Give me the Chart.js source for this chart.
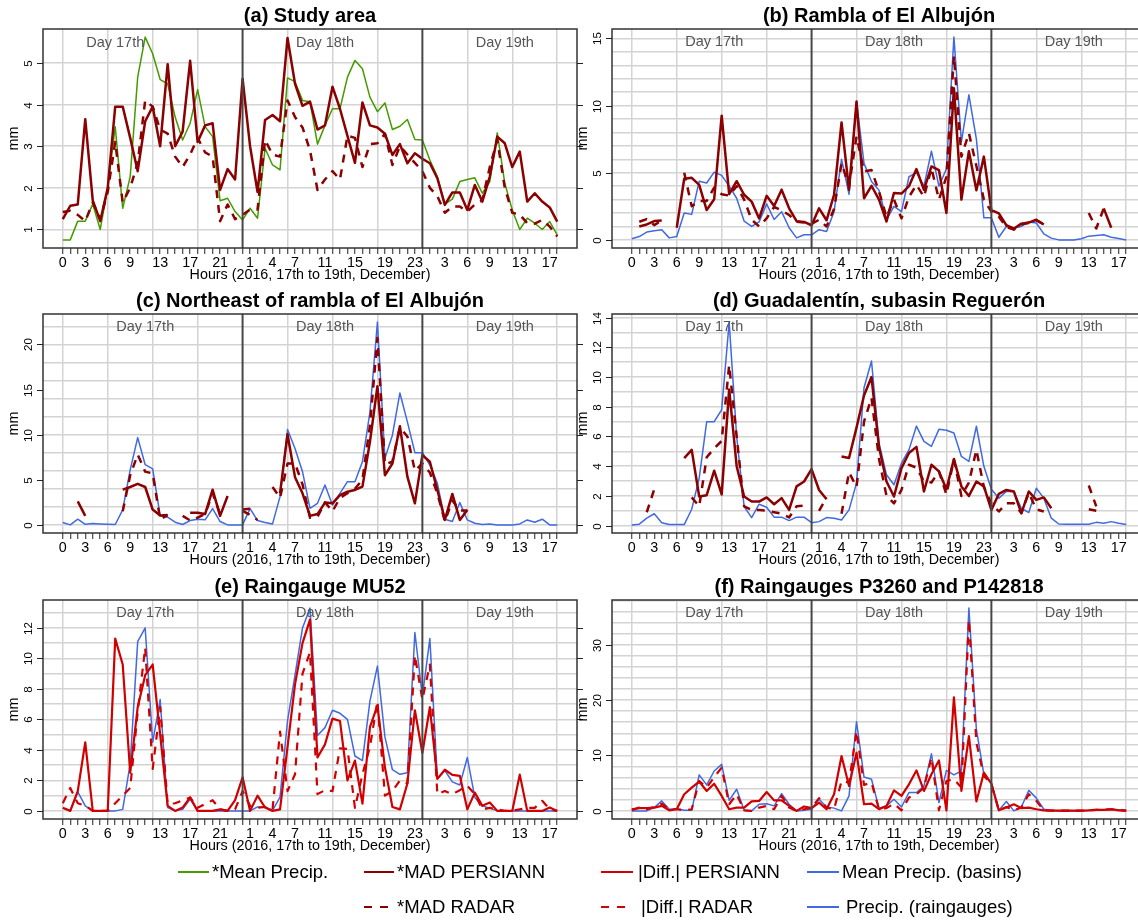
<!DOCTYPE html>
<html>
<head>
<meta charset="utf-8">
<title>Precipitation errors, 17-19 December 2016</title>
<script src="https://cdn.jsdelivr.net/npm/chart.js@4.4.1/dist/chart.umd.min.js"></script>
<style>
  html, body { margin: 0; padding: 0; background: #fff; width: 1138px; height: 920px; overflow: hidden; }
  .panel { position: absolute; }
  .lg { position: absolute; font: 18.5px "Liberation Sans", Arial, sans-serif; color: #000; line-height: 22px; white-space: nowrap; }
  .key { position: absolute; height: 2px; }
</style>
</head>
<body>

<div class="panel" id="pa"><canvas id="ca" width="585" height="294"></canvas></div>
<div class="panel" id="pb"><canvas id="cb" width="585" height="294"></canvas></div>
<div class="panel" id="pc"><canvas id="cc" width="585" height="294"></canvas></div>
<div class="panel" id="pd"><canvas id="cd" width="585" height="294"></canvas></div>
<div class="panel" id="pe"><canvas id="ce" width="585" height="294"></canvas></div>
<div class="panel" id="pf"><canvas id="cf" width="585" height="294"></canvas></div>

<!-- legend -->
<div class="key" style="left:178px;top:871px;width:31px;background:#459B00"></div>
<div class="lg" style="left:212px;top:861px">*Mean Precip.</div>
<div class="key" style="left:364px;top:871px;width:30px;background:#8B0000"></div>
<div class="lg" style="left:397px;top:861px">*MAD PERSIANN</div>
<div class="key" style="left:364px;top:906px;width:28px;background:linear-gradient(to right,#8B0000 0 8px,transparent 8px 16px,#8B0000 16px 24px,transparent 24px)"></div>
<div class="lg" style="left:397px;top:896px">*MAD RADAR</div>
<div class="key" style="left:601px;top:871px;width:32px;background:#D00000"></div>
<div class="lg" style="left:638px;top:861px">|Diff.| PERSIANN</div>
<div class="key" style="left:601px;top:906px;width:30px;background:linear-gradient(to right,#D00000 0 8px,transparent 8px 16px,#D00000 16px 24px,transparent 24px)"></div>
<div class="lg" style="left:641px;top:896px">|Diff.| RADAR</div>
<div class="key" style="left:807px;top:871px;width:32px;background:#4169E1"></div>
<div class="lg" style="left:842px;top:861px">Mean Precip. (basins)</div>
<div class="key" style="left:807px;top:906px;width:32px;background:#4169E1"></div>
<div class="lg" style="left:846px;top:896px">Precip. (raingauges)</div>

<script>
// hours 0..66 = 17th 00h .. 19th 18h
const HOURS = Array.from({length: 67}, (_, i) => i);
const HOUR_LABEL_IDX = [0, 3, 6, 9, 13, 17, 21, 25, 28, 31, 35, 39, 43, 47, 51, 54, 57, 61, 65];
const DAY_BREAKS = [24, 48];
const DAY_NAMES = ['Day 17th', 'Day 18th', 'Day 19th'];

// (a) Study area
const aMeanPrecip = [
  0.75,0.75,1.2,1.2,1.61,1.0,2.0,3.47,1.51,2.27,
  4.66,5.62,5.22,4.6,4.5,3.7,3.15,3.55,4.36,3.47,
  3.23,1.69,1.75,1.43,1.23,1.51,1.27,2.95,2.55,2.43,
  4.64,4.55,4.1,4.07,3.05,3.5,3.9,3.9,4.66,5.06,
  4.86,4.18,3.83,4.04,3.4,3.48,3.64,3.16,3.15,2.67,
  2.27,1.61,1.73,2.15,2.2,2.24,1.87,2.15,3.32,2.11,
  1.47,1.0,1.27,1.15,1.0,1.19,0.87];
const aMadPersiann = [
  1.25,1.57,1.6,3.65,1.7,1.2,2.0,3.95,3.95,3.2,
  2.4,3.6,3.95,3.0,4.97,3.0,3.35,5.05,3.1,3.5,
  3.55,1.95,2.45,2.2,4.62,3.0,1.9,3.63,3.75,3.6,
  5.6,4.5,3.97,4.07,3.4,3.5,4.43,3.9,3.25,2.6,
  4.05,3.5,3.45,3.3,2.79,3.05,2.59,2.83,2.7,2.59,
  2.23,1.59,1.89,1.89,1.47,2.07,1.67,2.27,3.23,3.07,
  2.5,2.87,1.67,1.87,1.67,1.53,1.19];
const aMadRadar = [
  1.42,1.45,1.35,1.2,1.65,1.25,1.9,3.1,1.65,2.0,
  2.6,4.1,3.95,3.4,3.3,2.75,2.5,2.8,3.2,2.85,
  2.75,1.2,1.6,1.25,1.35,1.48,1.48,3.15,2.8,2.75,
  4.1,3.7,3.45,2.9,1.95,2.2,2.4,2.2,3.25,3.2,
  2.5,3.05,3.07,3.3,2.55,3.0,2.8,2.6,2.4,2.0,
  1.8,1.4,1.55,1.55,1.43,1.6,1.7,2.5,3.15,2.0,
  1.4,1.36,1.15,1.14,1.23,1.07,0.83];

// (b) Rambla of El Albujon
const bMeanPrecip = [
  0.08,0.25,0.58,0.68,0.76,0.15,0.25,2.0,1.9,4.37,
  4.24,5.05,4.8,4.0,3.1,1.39,1.0,1.34,2.68,1.52,
  2.1,0.9,0.15,0.38,0.38,0.76,0.63,2.1,6.0,3.4,
  10.3,5.7,4.35,3.7,1.5,2.5,2.1,4.7,5.0,4.0,
  6.6,4.0,5.3,15.1,7.3,10.8,7.5,1.64,1.64,0.2,
  1.0,0.9,1.0,1.34,1.26,0.45,0.13,0,0,0,
  0.08,0.28,0.33,0.38,0.2,0.1,0];
const bMadPersiann = [
  null,1.0,1.15,1.4,1.45,null,0.9,4.55,4.62,4.1,
  2.22,3.03,9.25,3.4,4.37,3.36,2.85,1.6,3.28,2.53,
  3.74,2.35,1.39,1.34,1.09,2.35,1.46,3.36,8.75,3.73,
  10.3,3.1,4.03,3.0,1.37,3.5,3.45,4.0,5.27,3.73,
  5.47,5.2,2.0,11.3,3.0,6.6,3.7,6.2,2.22,1.97,
  1.09,0.83,1.21,1.29,1.5,1.15,null,null,null,null,
  null,null,null,2.35,0.9,null,null];
const bMadRadar = [
  null,1.35,1.55,1.1,1.45,null,null,5.0,2.5,2.9,
  2.9,3.9,3.4,3.3,4.0,3.0,1.5,1.0,1.6,2.45,
  2.2,1.85,1.35,1.3,1.2,1.5,1.0,2.3,5.7,4.0,
  7.7,5.1,5.2,3.6,1.7,3.0,1.6,3.2,4.1,3.2,
  5.35,3.0,4.7,13.7,6.2,7.95,5.5,3.0,2.1,1.72,
  0.96,0.76,1.16,1.26,1.46,1.16,null,null,null,null,
  null,2.0,0.85,2.35,null,null,null];

// (c) Northeast of rambla of El Albujon
const cMeanPrecip = [
  0.26,0,0.63,0.07,0.15,0.11,0.07,0.04,1.67,6.1,
  9.67,6.67,6.2,1.0,0.85,0.3,0.04,0.48,0.63,0.56,
  1.81,0.37,0,0,0,1.8,0.48,0.26,0.11,3.13,
  10.57,8.47,5.9,1.84,2.39,4.42,2.2,3.5,4.79,4.79,
  7.0,12.5,22.47,7.37,9.94,14.62,11.42,8.0,8.0,6.63,
  4.6,0.63,0.37,2.47,0.55,0.18,0.04,0.11,0,0,
  0,0.11,0.55,0.3,0.63,0,0];
const cMadPersiann = [
  null,null,2.6,1.0,null,null,null,null,3.9,4.2,
  4.55,4.2,1.7,1.05,1.1,null,null,1.35,1.35,1.2,
  3.9,1.0,3.2,null,1.7,1.8,null,null,null,3.5,
  10.05,5.27,3.5,1.0,1.2,2.47,2.39,3.3,3.68,3.87,
  4.24,9.2,15.36,5.5,6.8,10.94,5.34,2.39,7.73,7.0,
  3.87,0.55,3.43,0.55,1.66,null,null,null,null,null,
  null,null,null,null,null,null,null];
const cMadRadar = [
  null,null,null,null,null,null,null,null,1.5,5.5,
  7.8,5.9,5.7,0.6,1.1,null,1.0,0.5,0.8,1.2,
  3.5,1.2,null,null,1.55,1.1,0.55,null,4.2,3.0,
  6.8,6.8,4.5,0.8,0.9,2.5,1.5,3.0,3.5,4.0,
  5.0,11.0,20.7,6.7,7.0,10.8,9.8,6.0,6.8,5.8,
  3.5,0.4,2.7,1.6,1.6,null,null,null,null,null,
  null,null,null,null,null,null,null];

// (d) Guadalentin, subasin Reguerón
const dMeanPrecip = [
  0.05,0.1,0.5,0.8,0.2,0.07,0.07,0.07,1.1,3.2,
  7.0,7.0,7.8,13.7,6.0,1.28,0.54,1.44,1.24,0.57,
  0.57,0.34,0.57,0.57,0.2,0.27,0.54,0.5,0.38,1.06,
  2.86,9.28,11.08,5.56,3.42,2.75,4.2,5.1,6.7,5.67,
  5.34,6.48,6.42,6.24,4.66,4.32,6.69,3.99,2.45,1.85,
  2.3,2.3,1.17,0.88,2.52,1.85,0.5,0.11,0.09,0.09,
  0.09,0.09,0.22,0.16,0.27,0.16,0.07];
const dMadPersiann = [
  null,null,null,null,null,null,null,4.55,5.1,1.96,
  2.05,3.7,2.1,9.17,4.0,1.96,1.62,1.62,1.9,1.44,
  1.85,1.06,2.64,2.97,3.8,2.4,1.78,null,4.66,4.55,
  6.6,8.76,10.0,5.3,2.97,1.96,3.87,4.89,5.3,2.3,
  4.1,3.65,2.45,4.48,2.64,2.0,2.97,2.64,1.06,2.14,
  2.4,2.3,0.83,2.3,1.73,1.9,1.17,null,null,null,
  null,1.1,1.0,null,null,null,null];
const dMadRadar = [
  null,null,0.9,2.45,null,null,null,null,1.9,1.3,
  4.6,5.2,5.7,10.8,6.0,1.3,1.05,1.05,1.0,0.9,
  0.8,0.55,1.3,1.35,null,1.0,1.9,null,0.8,3.6,
  2.6,7.0,8.6,4.5,2.0,1.5,2.4,4.1,3.9,3.0,
  2.9,3.65,2.1,4.45,2.0,2.9,5.1,2.6,1.5,0.95,
  1.5,1.5,0.85,2.2,1.1,0.95,null,null,null,null,
  null,2.7,1.3,null,null,null,null];

// (e) Raingauge MU52
const eRaingauge = [
  0.18,0,1.25,0.33,0,0,0,0,0.1,3.1,
  11.1,12.0,4.5,7.3,0.22,0,0.1,0.77,0,0,
  0,0,0,0,0,0,0.26,0.26,0.04,0.9,
  5.9,8.9,12.0,13.3,4.95,5.46,6.6,6.4,6.0,3.6,
  3.3,7.2,9.5,4.85,2.7,2.4,2.5,11.7,7.5,11.3,
  2.1,2.65,1.9,1.7,3.5,0.88,0.33,0.18,0,0,
  0,0,0,0,0,0,0];
const eDiffPersiann = [
  0.2,0,1.3,4.5,0,0,0,11.3,9.6,2.5,
  6.8,8.9,9.6,5.0,0.33,0,0.22,0.88,0,0,
  0,0.1,0,0.7,2.2,0,1.0,0.22,0,0.1,
  4.2,8.3,11.0,12.55,3.5,4.36,6.05,5.9,2.0,3.3,
  0.48,5.5,6.9,2.86,0.26,0.1,1.8,6.6,3.8,6.8,
  2.1,2.7,2.36,2.3,0.1,1.2,0.33,0.55,0,0,
  0,2.38,0,0,0,0.22,0];
const eDiffRadar = [
  0.5,1.5,0.5,0.35,0,0,0,0.5,1.0,1.5,
  6.5,10.7,2.75,6.8,0.45,0.5,0.7,0.88,0.2,0.45,
  0.7,0.1,0,0.1,1.3,0.33,0.2,0.26,0.1,5.2,
  1.3,2.4,9.0,10.4,1.1,1.36,1.3,4.1,4.07,0.2,
  2.4,4.2,7.2,1.0,1.3,2.0,1.8,10.2,7.3,9.6,
  1.1,1.3,1.1,1.36,1.65,1.1,0.1,0.2,0.1,0,
  0,0.1,0.2,0.2,0.66,0.1,0];

// (f) Raingauges P3260 and P142818
const fRaingauge = [
  0,0,0,0.6,1.8,0.3,0.4,0.1,0.1,6.5,
  4.7,7.2,8.4,1.9,3.9,0.1,0,1.2,1.3,0.9,
  3.1,1.2,0,0.1,0.3,2.1,0.7,0.5,0,2.7,
  16.1,6.1,5.7,0.5,0.9,2.1,0.7,3.3,3.3,4.5,
  10.3,1.5,7.3,6.5,7.2,36.6,14.7,6.6,5.1,0.1,
  1.7,0,0.7,3.7,2.3,0.3,0.1,0,0,0,
  0,0.1,0.2,0.2,0.3,0.2,0.1];
const fDiffPersiann = [
  0.3,0.5,0.5,0.6,0.9,0.1,0.3,3.0,4.2,5.3,
  3.6,4.9,2.7,0.3,0.6,0.6,1.7,1.8,3.4,1.9,
  1.9,0.9,0,0.8,0.5,1.5,0.3,3.0,9.9,4.5,
  10.5,1.2,1.3,0.3,0.9,3.7,2.7,4.8,7.3,3.6,
  6.6,9.1,0.1,20.5,3.6,13.5,1.7,6.9,4.9,0.1,
  0.6,1.2,0.5,0.6,0.3,0.1,0.05,0.05,0.05,0.05,
  0.05,0.1,0.2,0.2,0.3,0.1,0];
const fDiffRadar = [
  0.1,0.6,0.3,0.7,1.3,0.3,0.3,0.1,0.3,5.4,
  4.2,6.1,7.8,1.2,3.0,0.1,0,0.6,0.9,0.3,
  2.7,0.6,0,0.3,0.6,2.3,0.6,0.3,5.4,5.1,
  14.4,4.7,5.1,0.3,0.5,1.3,0.1,2.4,3.0,4.2,
  9.6,0.1,5.4,5.7,4.2,34.5,12.3,6.3,4.8,0.1,
  0.7,0.1,0.6,3.0,1.8,0.1,0.05,0.05,0.05,0.05,
  0.05,0.1,0.2,0.2,0.3,0.15,0.05];

const FONT = '"Liberation Sans", Arial, Helvetica, sans-serif';

const STYLE = {
  madRadar:     {borderColor: '#8B0000', borderWidth: 2.5, borderDash: [8, 7]},
  madPersiann:  {borderColor: '#8B0000', borderWidth: 2.5},
  meanPrecip:   {borderColor: '#459B00', borderWidth: 1.5},
  basins:       {borderColor: '#4169E1', borderWidth: 1.5},
  diffRadar:    {borderColor: '#D00000', borderWidth: 2.2, borderDash: [8, 7]},
  diffPersiann: {borderColor: '#D00000', borderWidth: 2.2},
  gauges:       {borderColor: '#4169E1', borderWidth: 1.5}
};

// first series is drawn on top
const PANELS = [
  {canvas: 'ca', box: 'pa', left: 43,    top: 29,  title: '(a) Study area',
   series: [[aMadRadar, 'madRadar'], [aMadPersiann, 'madPersiann'], [aMeanPrecip, 'meanPrecip']],
   gridStep: 1, labelStep: 1, dayAt: [7, 35, 59]},
  {canvas: 'cb', box: 'pb', left: 611.5, top: 29,  title: '(b) Rambla of El Albuj\u00f3n',
   series: [[bMadRadar, 'madRadar'], [bMadPersiann, 'madPersiann'], [bMeanPrecip, 'basins']],
   gridStep: 1, labelStep: 5, dayAt: [11, 35, 59]},
  {canvas: 'cc', box: 'pc', left: 43,    top: 314, title: '(c) Northeast of rambla of El Albuj\u00f3n',
   series: [[cMadRadar, 'madRadar'], [cMadPersiann, 'madPersiann'], [cMeanPrecip, 'basins']],
   gridStep: 2, labelStep: 5, dayAt: [11, 35, 59]},
  {canvas: 'cd', box: 'pd', left: 611.5, top: 314, title: '(d) Guadalent\u00edn, subasin Reguer\u00f3n',
   series: [[dMadRadar, 'madRadar'], [dMadPersiann, 'madPersiann'], [dMeanPrecip, 'basins']],
   gridStep: 1, labelStep: 2, dayAt: [11, 35, 59]},
  {canvas: 'ce', box: 'pe', left: 43,    top: 600, title: '(e) Raingauge MU52',
   series: [[eDiffRadar, 'diffRadar'], [eDiffPersiann, 'diffPersiann'], [eRaingauge, 'gauges']],
   gridStep: 1, labelStep: 2, dayAt: [11, 35, 59]},
  {canvas: 'cf', box: 'pf', left: 611.5, top: 600, title: '(f) Raingauges P3260 and P142818',
   series: [[fDiffRadar, 'diffRadar'], [fDiffPersiann, 'diffPersiann'], [fRaingauge, 'gauges']],
   gridStep: 2, labelStep: 10, dayAt: [11, 35, 59]}
];

const PAD_L = 45, PAD_T = 29, PAD_R = 6, PAD_B = 46;

// axes, frame and texts in the style of base R graphics
const framePlugin = {
  id: 'frame',
  afterDatasetsDraw(chart, _args, o) {
    const {ctx, chartArea: a, scales: {x, y}} = chart;
    const seg = (x1, y1, x2, y2) => { ctx.beginPath(); ctx.moveTo(x1, y1); ctx.lineTo(x2, y2); ctx.stroke(); };
    ctx.save();

    ctx.strokeStyle = '#474747';
    ctx.lineWidth = 2;
    DAY_BREAKS.forEach(v => {
      const px = x.getPixelForValue(v);
      seg(px, a.top, px, a.bottom);
    });

    ctx.fillStyle = '#555';
    ctx.font = '14.5px ' + FONT;
    ctx.textAlign = 'center';
    ctx.textBaseline = 'middle';
    const yDay = y.getPixelForValue(o.peak * 0.975);
    DAY_NAMES.forEach((name, i) => ctx.fillText(name, x.getPixelForValue(o.dayAt[i]), yDay));

    ctx.strokeStyle = '#333';
    ctx.lineWidth = 1.5;
    ctx.strokeRect(a.left, a.top, a.right - a.left, a.bottom - a.top);

    ctx.strokeStyle = '#222';
    ctx.lineWidth = 1;
    ctx.fillStyle = '#000';
    ctx.font = '11.5px ' + FONT;
    const first = Math.ceil(y.min / o.labelStep) * o.labelStep;
    for (let v = first; v <= y.max + 1e-9; v += o.labelStep) {
      const py = Math.round(y.getPixelForValue(v)) + 0.5;
      seg(a.left - 6, py, a.left, py);
      seg(a.right, py, a.right + 6, py);
      ctx.save();
      ctx.translate(a.left - 14, py);
      ctx.rotate(-Math.PI / 2);
      ctx.fillText(String(v), 0, 0);
      ctx.restore();
    }

    const cx = (a.left + a.right) / 2;
    ctx.font = '14.3px ' + FONT;
    ctx.fillText('Hours (2016, 17th to 19th, December)', cx, a.bottom + 27);
    ctx.save();
    ctx.translate(a.left - 29, (a.top + a.bottom) / 2);
    ctx.rotate(-Math.PI / 2);
    ctx.fillText('mm', 0, 0);
    ctx.restore();

    ctx.font = 'bold 20px ' + FONT;
    ctx.fillText(o.title, cx, a.top - 13);
    ctx.restore();
  }
};

PANELS.forEach(p => {
  const holder = document.getElementById(p.box);
  holder.style.left = (p.left - PAD_L) + 'px';
  holder.style.top = (p.top - PAD_T) + 'px';

  const values = p.series.flatMap(s => s[0]).filter(v => v !== null);
  const lo = Math.min(...values), hi = Math.max(...values);
  const yPad = (hi - lo) * 0.04;
  const xPad = (HOURS[HOURS.length - 1] - HOURS[0]) * 0.04;

  const datasets = p.series.map(([vals, kind]) => Object.assign({
    data: HOURS.map((h, i) => ({x: h, y: vals[i]})),
    pointRadius: 0,
    fill: false,
    tension: 0,
    spanGaps: false,
    borderJoinStyle: 'round',
    borderCapStyle: 'butt'
  }, STYLE[kind]));

  new Chart(document.getElementById(p.canvas), {
    type: 'line',
    data: {datasets},
    plugins: [framePlugin],
    options: {
      responsive: false,
      animation: false,
      devicePixelRatio: 1,
      events: [],
      layout: {padding: {left: 0, top: PAD_T, right: PAD_R, bottom: 0}},
      plugins: {
        legend: {display: false},
        tooltip: {enabled: false},
        frame: {title: p.title, dayAt: p.dayAt, peak: hi, labelStep: p.labelStep}
      },
      scales: {
        x: {
          type: 'linear',
          min: HOURS[0] - xPad,
          max: HOURS[HOURS.length - 1] + xPad,
          afterBuildTicks: s => { s.ticks = HOURS.map(h => ({value: h})); },
          afterFit: s => { s.height = PAD_B; },
          border: {display: false},
          grid: {
            color: c => (c.tick && c.tick.value % 6 === 0 && !DAY_BREAKS.includes(c.tick.value)) ? '#d3d3d3' : 'rgba(0,0,0,0)',
            lineWidth: 1.5,
            drawTicks: true,
            tickLength: 6,
            tickColor: '#222',
            tickWidth: 1
          },
          ticks: {
            autoSkip: false,
            maxRotation: 0,
            minRotation: 0,
            padding: 0,
            color: '#000',
            font: {family: FONT, size: 14.3},
            callback: v => HOUR_LABEL_IDX.includes(v) ? String(v % 24) : ''
          }
        },
        y: {
          min: lo - yPad,
          max: hi + yPad,
          afterBuildTicks: s => {
            const t = [];
            for (let v = Math.ceil(s.min / p.gridStep) * p.gridStep; v <= s.max + 1e-9; v += p.gridStep) t.push({value: v});
            s.ticks = t;
          },
          afterFit: s => { s.width = PAD_L; },
          border: {display: false},
          grid: {color: '#d3d3d3', lineWidth: 1.5, drawTicks: false},
          ticks: {display: false}
        }
      }
    }
  });
});
</script>
</body>
</html>
